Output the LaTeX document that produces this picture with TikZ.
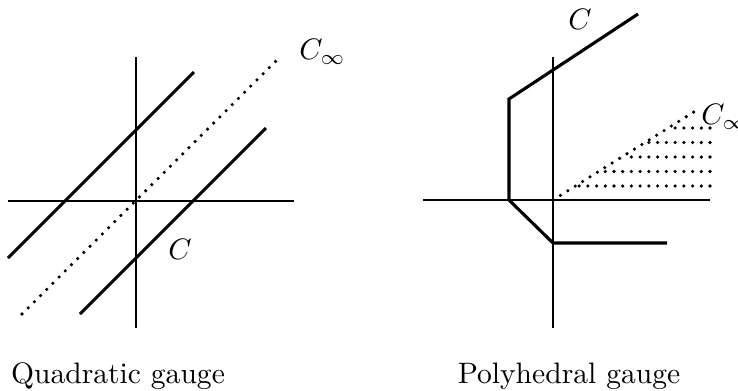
\documentclass[tikz,border=0pt]{standalone}
\usepackage{amsmath, amssymb}
\usepackage{tikz}
\tikzset{
  axis/.style={line width=0.35pt},
  gauge/.style={line width=1.05pt, line join=miter},
  asym/.style={line width=1.2pt, line cap=round, dash pattern=on 0pt off 2.95pt},
}

\begin{document}
\begin{tikzpicture}[x=0.338pt,y=-0.338pt]
  \useasboundingbox (0,0) rectangle (738,390);
  % quadratic gauge
  \coordinate (O1) at (136,201);
  \draw [axis] (8,201) -- (294,201);
  \draw [axis] (136,57) -- (136,328);
  \draw [gauge] (8,258) -- (194,72);
  \draw [gauge] (80,314) -- (266,128);
  \draw [asym] (22,314) -- (280,57);
  \node [anchor=west] (Cinf1) at (289,52) {$C_\infty$};
  \node (C1) at (180,249) {$C$};
  \node (cap1) at (118,376) {Quadratic gauge};
  % polyhedral gauge
  \coordinate (O2) at (553,200);
  \draw [axis] (423,200) -- (710,200);
  \draw [axis] (553,57) -- (553,328);
  \draw [gauge] (638,14) -- (509,99) -- (509,200) -- (553,243) -- (667,243);
  \draw [asym] (O2) -- (697,110);
  \foreach \y in {128,142.5,157,171.5,186}
    \draw [asym] (710,\y) -- ({553+(200-\y)*1.6+3},\y);
  \node [anchor=west] (Cinf2) at (691,117) {$C_\infty$};
  \node (C2) at (580,19) {$C$};
  \node (cap2) at (569,376) {Polyhedral gauge};
\end{tikzpicture}
\end{document}
